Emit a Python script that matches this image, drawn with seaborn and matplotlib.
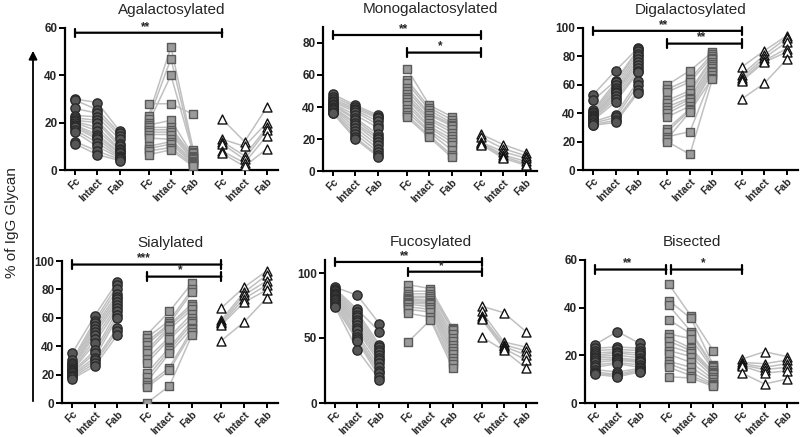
import numpy as np
import pandas as pd
import matplotlib
matplotlib.use("Agg")
import matplotlib.pyplot as plt
import seaborn as sns

categories = ["Fc", "Intact", "Fab"]
groups = ["circle", "square", "triangle"]
titles = ["Agalactosylated", "Monogalactosylated", "Digalactosylated",
          "Sialylated", "Fucosylated", "Bisected"]

# ---- data: per panel, per group: [Fc, Intact, Fab] (paired by subject index)
aga_g1 = [[30, 29.5, 26, 23, 22, 21, 20.5, 20, 19, 18.5, 18, 17, 16, 12, 11],
          [28.5, 25.5, 24, 22.5, 21, 20, 18, 16.5, 15, 14, 13, 11.5, 10, 8, 6.5],
          [16.5, 15.5, 14.5, 13, 11, 10, 9, 8.5, 7.5, 7, 6, 5.5, 5, 4.5, 4]]
aga_g2 = [[28, 23, 21.5, 20, 19, 18, 17, 16, 15, 13.5, 10, 9, 8, 6.5],
          [28, 52, 47, 40, 21, 18, 17, 16, 15, 13, 12, 11, 9.5, 8.5],
          [23.5, 8.5, 7.5, 7, 6, 5.5, 5, 4.5, 4, 3.5, 3, 2.5, 2, 1.5]]
aga_g3 = [[21.5, 13, 12, 11, 8, 7],
          [12, 10, 6, 4.5, 3, 1.5],
          [26.5, 20, 18, 17, 14.5, 9]]

mono_g1 = [[48, 46.5, 45, 44, 43, 42, 41.5, 41, 40, 39.5, 39, 38, 37, 36.5, 36],
           [41, 40, 39, 38, 37, 35, 33, 32, 30, 29, 27, 25, 23, 21, 20],
           [35, 34, 33, 31, 29, 27, 23, 21, 20, 18, 16, 14, 12, 10, 9]]
mono_g2 = [[64, 57, 55, 52, 50, 48, 46, 45, 43, 41, 39, 37, 35, 33.5],
           [41, 39.5, 38, 36, 35, 33, 32, 30, 28, 27, 25, 24, 22, 21],
           [34, 32, 30, 29, 28, 26, 24, 22, 20, 18, 16, 13, 10, 8.5]]
mono_g3 = [[23, 21, 18, 17.5, 17, 16.5],
           [16.5, 14, 12, 10, 9, 8],
           [11.5, 9.5, 8, 6, 4.5, 3.5]]

di_g1 = [[53, 49, 42, 41, 40, 39, 38, 37, 36.5, 36, 35, 34, 33, 32, 31.5],
         [70, 63, 62, 60, 58, 56, 55, 54, 52, 50, 48, 39, 37, 35, 33.5],
         [86, 85, 84, 82, 80, 78, 76, 74, 72, 70, 69, 63, 60, 56, 54.5]]
di_g2 = [[60, 57, 55, 49, 47, 44.5, 42, 40, 37.5, 29, 27, 23.5, 22, 20],
         [70, 64, 62, 56, 54, 51, 50, 48, 45, 43, 42, 27, 41, 11],
         [83, 82, 80, 79, 78, 76, 75, 73, 72, 70, 69, 67, 65, 64]]
di_g3 = [[72.5, 67, 65, 63.5, 62.5, 50],
         [84, 81, 79, 77, 76, 61],
         [94.5, 93, 90, 85.5, 83, 78]]

sia_g1 = [[35, 30, 28.5, 27.5, 26, 25, 24, 23, 22.5, 22, 21, 20, 19, 18, 17],
          [61.5, 58, 56, 54, 52, 50, 48, 45, 42, 37, 35, 32, 30, 28, 26],
          [85.5, 83, 80, 77, 75, 73, 71, 69, 67, 65, 62, 60, 53, 51, 48]]
sia_g2 = [[48, 46, 43, 41, 37, 35, 31, 28, 21, 18, 15, 12.5, 11, 0],
          [64.5, 58, 56, 55, 54, 52, 46.5, 45, 39, 37, 35, 25, 23, 12],
          [84.5, 80, 78, 70, 68, 66, 63, 60, 58, 56, 53, 52, 50, 48]]
sia_g3 = [[67, 58.5, 57, 56, 55, 44],
          [81.5, 78, 76, 73.5, 71, 57],
          [93, 90, 86, 83, 79.5, 74]]

fuc_g1 = [[89, 88, 87, 86, 85, 84, 83, 82, 81, 80, 79, 78, 76, 75, 74],
          [83, 72, 70, 68, 66, 64, 62, 60, 58, 56, 53, 51, 49, 48, 41],
          [61, 55, 45, 43, 41, 39, 37, 35, 33, 31, 28, 25, 23, 20, 18]]
fuc_g2 = [[91, 86, 84, 82, 81, 80, 79, 78, 77, 76, 74, 72, 69, 47],
          [88, 86, 84, 82, 81, 79, 78, 77, 76, 74, 72, 70, 66, 64],
          [58, 57, 56, 53, 50, 48, 45, 42, 40, 38, 35, 32, 30, 27]]
fuc_g3 = [[74.5, 70.5, 67, 65.5, 64.5, 51],
          [69.5, 47, 45, 43.5, 42, 40.5],
          [55, 43, 40, 37, 33, 27]]

bis_g1 = [[24.5, 23, 22, 21, 20, 19.5, 19, 18, 17, 16, 15, 14, 13, 12.5, 12],
          [30, 23.5, 22.5, 21.5, 21, 20, 19, 18.5, 18, 17, 16.5, 13, 12, 11.5, 11],
          [25, 23, 22, 21, 20, 19, 18, 17.5, 17, 16, 15, 14.5, 14, 13.5, 13]]
bis_g2 = [[50, 43, 41, 35, 29, 27.5, 26, 24, 22, 20.5, 17.5, 16.5, 15, 11],
          [36.5, 35.5, 30, 29, 27, 23, 22, 21, 19.5, 17, 15, 13, 11.5, 10.5],
          [22, 16, 15.5, 15, 14, 13, 12.5, 12, 11, 10, 9, 8, 7.5, 7]]
bis_g3 = [[18.5, 17, 16.5, 16, 15.5, 12.5],
          [21.5, 16.5, 15, 14, 12.5, 8],
          [19.5, 18, 16.5, 15, 13.5, 10]]

panel_data = [
    [aga_g1, aga_g2, aga_g3],
    [mono_g1, mono_g2, mono_g3],
    [di_g1, di_g2, di_g3],
    [sia_g1, sia_g2, sia_g3],
    [fuc_g1, fuc_g2, fuc_g3],
    [bis_g1, bis_g2, bis_g3],
]

ylims = [60, 90, 100, 100, 110, 60]
yticks = [[0, 20, 40, 60], [0, 20, 40, 60, 80], [0, 20, 40, 60, 80, 100],
          [0, 20, 40, 60, 80, 100], [0, 50, 100], [0, 20, 40, 60]]
# significance brackets: (from group, to group, y, label)
brackets = [
    [(0, 2, 58, "**")],
    [(0, 2, 85, "**"), (1, 2, 74, "*")],
    [(0, 2, 98, "**"), (1, 2, 89, "**")],
    [(0, 2, 97.5, "***"), (1, 2, 89, "*")],
    [(0, 2, 108.5, "**"), (1, 2, 101, "*")],
    [(0, 1, 56, "**"), (1, 2, 56, "*")],
]

# ---- build a long table
rows = []
for p, pdata in enumerate(panel_data):
    for g, gdata in enumerate(pdata):
        n = len(gdata[0])
        for c, vals in enumerate(gdata):
            for s in range(n):
                rows.append(dict(panel=p, group=groups[g], subject=f"{g}_{s}",
                                 cat=c, gi=g, value=vals[s]))
df = pd.DataFrame(rows)
GAP = 3.3
df["x"] = df["gi"] * GAP + df["cat"]

sns.set_theme(style="ticks")
plt.rcParams["font.family"] = ["Liberation Sans", "DejaVu Sans"]

W, H = 800, 437
fig = plt.figure(figsize=(8, 4.37), dpi=100)

boxes = [(65, 28, 278, 170), (323, 27, 537, 171), (583, 28, 798, 170),
         (62, 261, 278, 403), (325, 260, 537, 403), (585, 260, 798, 403)]

styles = {
    "circle": dict(marker="o", fc="#565656", ec="#2a2a2a", s=44),
    "square": dict(marker="s", fc="#9b9b9b", ec="#5a5a5a", s=38),
    "triangle": dict(marker="^", fc="white", ec="#111111", s=42),
}

for p in range(6):
    l, t, r, b = boxes[p]
    ax = fig.add_axes([l / W, 1 - b / H, (r - l) / W, (b - t) / H])
    sub = df[df.panel == p]
    for g in groups:
        gd = sub[sub.group == g]
        sns.lineplot(data=gd, x="x", y="value", units="subject", estimator=None,
                     color="#c0c0c0", lw=1.1, ax=ax, zorder=1, legend=False)
    for g in groups:
        gd = sub[sub.group == g]
        st = styles[g]
        sns.scatterplot(data=gd, x="x", y="value", marker=st["marker"], s=st["s"],
                        color=st["fc"], edgecolor=st["ec"], linewidth=1.0,
                        ax=ax, zorder=3, legend=False)
    ax.set_xlim(-0.45, 9.1)
    ax.set_ylim(0, ylims[p])
    ax.set_yticks(yticks[p])
    xt = [gi * GAP + c for gi in range(3) for c in range(3)]
    ax.set_xticks(xt)
    ax.set_xticklabels(categories * 3, rotation=45, ha="right",
                       rotation_mode="anchor", fontsize=7.5, fontweight="bold")
    for lab in ax.get_yticklabels():
        lab.set_fontweight("bold")
        lab.set_fontsize(8.5)
    ax.set_xlabel("")
    ax.set_ylabel("")
    for side in ["top", "right"]:
        ax.spines[side].set_visible(False)
    for side in ["left", "bottom"]:
        ax.spines[side].set_linewidth(1.6)
        ax.spines[side].set_color("black")
    ax.tick_params(axis="both", width=1.4, length=4, color="black", pad=1.5)
    ax.tick_params(axis="x", length=3.5, pad=1)
    ax.set_title(titles[p], fontsize=11, pad=10)
    ax.patch.set_alpha(0)
    for k, (g0, g1, y, lab) in enumerate(brackets[p]):
        x0 = g0 * GAP
        x1 = g1 * GAP
        if p == 5:
            if k == 0:
                x1 -= 0.1
            else:
                x0 += 0.1
        ax.annotate("", xy=(x0, y), xytext=(x1, y), xycoords="data",
                    arrowprops=dict(arrowstyle="|-|, widthA=0.25, widthB=0.25",
                                    lw=1.6, color="black", shrinkA=0, shrinkB=0),
                    annotation_clip=False)
        ax.text((x0 + x1) / 2 - 0.15, y, lab, ha="center", va="bottom",
                fontsize=8.5, fontweight="bold")

# y label with arrow
fig.add_artist(matplotlib.patches.FancyArrowPatch(
    (33 / W, 1 - 404 / H), (33 / W, 1 - 48 / H), transform=fig.transFigure,
    arrowstyle="-|>, head_length=5, head_width=2.5", lw=1.3, color="black"))
fig.text(12 / W, 1 - 223 / H, "% of IgG Glycan", rotation=90, ha="center",
         va="center", fontsize=11)

fig.savefig("out.png", dpi=100)
